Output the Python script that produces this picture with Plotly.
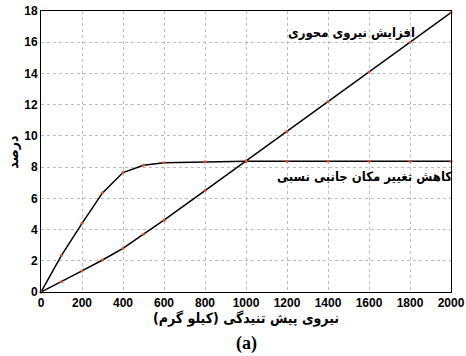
import plotly.graph_objects as go

force = [0, 100, 200, 300, 400, 500, 600, 800, 1000, 1200, 1400, 1600, 1800, 2000]
drift_reduction = [0, 2.35, 4.4, 6.35, 7.65, 8.12, 8.28, 8.35, 8.38, 8.38, 8.38, 8.38, 8.38, 8.38]
axial_increase = [0, 0.66, 1.35, 2.05, 2.8, 3.7, 4.6, 6.5, 8.4, 10.3, 12.2, 14.1, 16.0, 17.9]

x_ticks = [0, 200, 400, 600, 800, 1000, 1200, 1400, 1600, 1800, 2000]
y_ticks = [0, 2, 4, 6, 8, 10, 12, 14, 16, 18]

label_axial = "افزایش نیروی محوری"
label_drift = "کاهش تغییر مکان جانبی نسبی"
x_title = "نیروی پیش تنیدگی (کیلو گرم)"
y_title = "درصد"
caption = "(a)"

fa_font = "DejaVu Sans Condensed, DejaVu Sans"

fig = go.Figure()
for ys in (drift_reduction, axial_increase):
    fig.add_trace(go.Scatter(
        x=force, y=ys, mode="lines+markers",
        line=dict(color="black", width=1.5),
        marker=dict(color="#e0502a", size=3),
        showlegend=False,
        cliponaxis=False,
    ))

fig.update_layout(
    width=466, height=356,
    margin=dict(l=41, r=15, t=11, b=64, autoexpand=False),
    paper_bgcolor="white", plot_bgcolor="white",
    font=dict(family="Liberation Sans", size=12, color="black"),
)
axis_common = dict(
    showline=True, linecolor="black", linewidth=1, mirror=True,
    showgrid=True, gridcolor="#bcbcbc", griddash="dot", gridwidth=1,
    ticks="", zeroline=False, automargin=False,
    tickfont=dict(family="Liberation Sans", size=12, color="black"),
)
fig.update_xaxes(range=[0, 2000], tickvals=x_ticks, ticktext=[f"<b>{t}</b>" for t in x_ticks], **axis_common)
fig.update_yaxes(range=[0, 18], tickvals=y_ticks, ticktext=[f"<b>{t}</b>" for t in y_ticks], **axis_common)

fig.add_annotation(x=1517, y=16.65, xref="x", yref="y", text=f"<b>{label_axial}</b>",
                   showarrow=False, font=dict(family=fa_font, size=13, color="black"))
fig.add_annotation(x=1580, y=7.4, xref="x", yref="y", text=f"<b>{label_drift}</b>",
                   showarrow=False, font=dict(family=fa_font, size=13, color="black"))
fig.add_annotation(x=0.5, y=-0.095, xref="paper", yref="paper", text=f"<b>{x_title}</b>",
                   showarrow=False, yanchor="middle", font=dict(family=fa_font, size=14, color="black"))
fig.add_annotation(x=-0.07, y=0.5, xref="paper", yref="paper", text=f"<b>{y_title}</b>",
                   showarrow=False, textangle=-90, xanchor="center", yanchor="middle",
                   font=dict(family=fa_font, size=14, color="black"))
fig.add_annotation(x=0.5, y=-0.185, xref="paper", yref="paper", text=f"<b>{caption}</b>",
                   showarrow=False, yanchor="middle", font=dict(family="Liberation Serif", size=18, color="black"))

fig.write_html("out.html", config={"displayModeBar": False},
               post_script="document.body.style.margin='0';document.body.style.overflow='hidden';")
